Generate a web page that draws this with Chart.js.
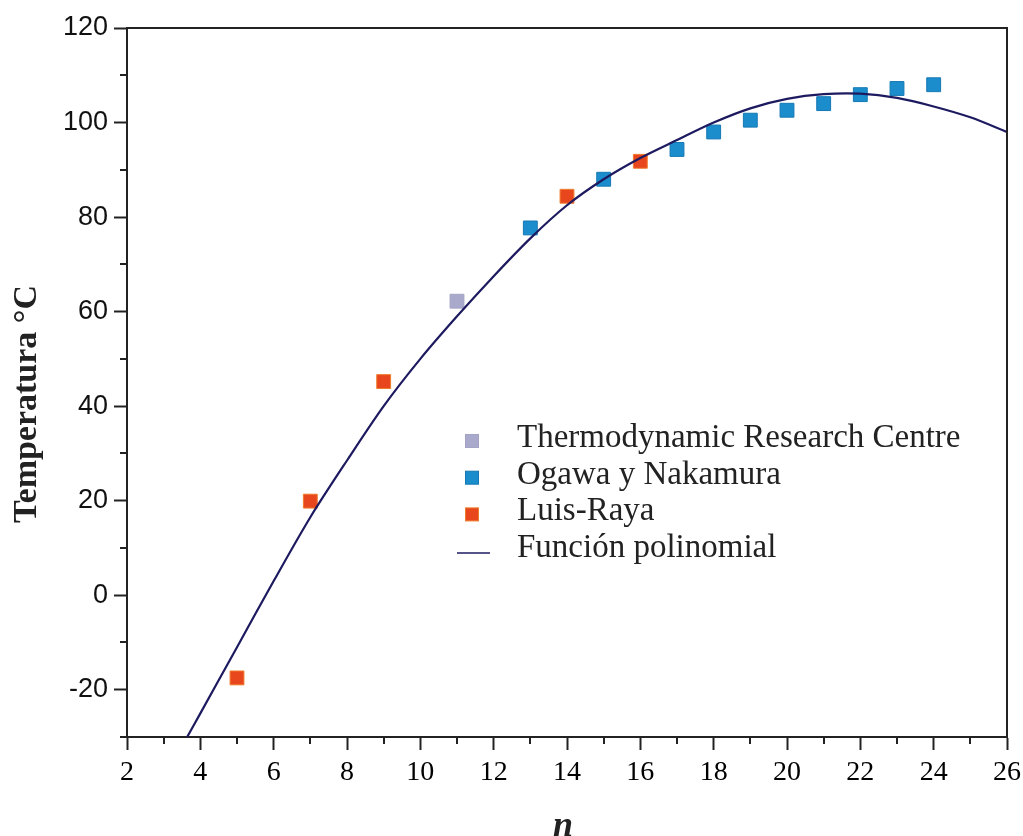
<!DOCTYPE html>
<html>
<head>
<meta charset="utf-8">
<script src="https://cdn.jsdelivr.net/npm/chart.js@4.4.1/dist/chart.umd.min.js"></script>
<style>
  html, body { margin: 0; padding: 0; background: #ffffff; }
  canvas { display: block; }
</style>
</head>
<body>
<canvas id="chart" width="1023" height="836"></canvas>
<script>
// Measured temperatures by carbon number n
const thermoN = [11];
const thermoT = [62.2];

const ogawaN = [13, 15, 17, 18, 19, 20, 21, 22, 23, 24];
const ogawaT = [77.7, 88.0, 94.3, 98.0, 100.5, 102.6, 104.0, 105.9, 107.2, 108.0];

const luisN = [5, 7, 9, 14, 16];
const luisT = [-17.5, 19.9, 45.2, 84.4, 91.8];

// Polynomial fit, sampled along n
const fitN = [3.64, 4, 5, 6, 7, 8, 9, 10, 11, 12, 13, 14, 15, 16, 17, 18, 19, 20, 21, 22, 23, 24, 25, 26];
const fitT = [-30, -25, -11, 3, 16.5, 28.5, 40, 50, 59, 67.5, 75.5, 82.5, 88, 92.5, 96.3, 100, 103, 105, 106, 106.1, 105.2, 103.4, 101.1, 98];

const seriesNames = ['Thermodynamic Research Centre', 'Ogawa y Nakamura', 'Luis-Raya', 'Función polinomial'];

// Axis ticks
const xTicks = [2, 4, 6, 8, 10, 12, 14, 16, 18, 20, 22, 24, 26];
const xMinor = [3, 5, 7, 9, 11, 13, 15, 17, 19, 21, 23, 25];
const yTicks = [-20, 0, 20, 40, 60, 80, 100, 120];
const yMinor = [-30, -10, 10, 30, 50, 70, 90, 110];

const xTitle = 'n';
const yTitle = 'Temperatura °C';

const toPoints = (xs, ys) => xs.map((x, i) => ({ x: x, y: ys[i] }));

const INK = '#222222';

// Box frame, minor ticks, axis titles and the inset legend
const decorations = {
  id: 'decorations',
  afterDraw(chart) {
    const ctx = chart.ctx;
    const a = chart.chartArea;
    const xs = chart.scales.x, ys = chart.scales.y;
    ctx.save();
    ctx.strokeStyle = INK;
    ctx.lineWidth = 2;
    ctx.beginPath();
    ctx.moveTo(a.left - 1, a.top);
    ctx.lineTo(a.right, a.top);
    ctx.lineTo(a.right, a.bottom + 1);
    ctx.stroke();

    // minor ticks
    ctx.beginPath();
    xMinor.forEach(v => {
      const px = Math.round(xs.getPixelForValue(v));
      ctx.moveTo(px, a.bottom);
      ctx.lineTo(px, a.bottom + 7);
    });
    yMinor.forEach(v => {
      const py = Math.round(ys.getPixelForValue(v));
      ctx.moveTo(a.left, py);
      ctx.lineTo(a.left - 7, py);
    });
    ctx.stroke();

    // axis titles
    ctx.fillStyle = INK;
    ctx.font = 'bold italic 36px "Liberation Serif", "Times New Roman", serif';
    ctx.textAlign = 'center';
    ctx.textBaseline = 'alphabetic';
    ctx.fillText(xTitle, 563, 836);

    ctx.save();
    ctx.translate(36, 404);
    ctx.rotate(-Math.PI / 2);
    ctx.font = 'bold 34px "Liberation Serif", "Times New Roman", serif';
    ctx.fillText(yTitle, 0, 0);
    ctx.restore();

    // legend
    const lg = chart.options.plugins.decorations;
    ctx.font = '33px "Liberation Serif", "Times New Roman", serif';
    ctx.textAlign = 'left';
    chart.data.datasets.forEach((ds, i) => {
      const base = lg.top + i * lg.rowGap;
      const my = base - 6;
      if (ds.showLine) {
        ctx.strokeStyle = ds.borderColor;
        ctx.lineWidth = 1.5;
        ctx.beginPath();
        ctx.moveTo(lg.markerX - 15, my + 2);
        ctx.lineTo(lg.markerX + 18, my + 2);
        ctx.stroke();
      } else {
        const s = 13;
        ctx.fillStyle = ds.backgroundColor;
        ctx.fillRect(lg.markerX - s / 2, my - s / 2, s, s);
        ctx.strokeStyle = ds.borderColor;
        ctx.lineWidth = 1;
        ctx.strokeRect(lg.markerX - s / 2, my - s / 2, s, s);
      }
      ctx.fillStyle = INK;
      ctx.fillText(ds.label, lg.textX, base);
    });
    ctx.restore();
  }
};

const markerCommon = {
  pointStyle: 'rect',
  pointRadius: 9.8,
  pointBorderWidth: 1,
  showLine: false,
  order: 1
};

new Chart(document.getElementById('chart'), {
  type: 'scatter',
  data: {
    datasets: [
      Object.assign({
        label: seriesNames[0],
        data: toPoints(thermoN, thermoT),
        backgroundColor: '#a9a9cb',
        borderColor: '#a3a3c6'
      }, markerCommon),
      Object.assign({
        label: seriesNames[1],
        data: toPoints(ogawaN, ogawaT),
        backgroundColor: '#1b8dcc',
        borderColor: '#1679b4'
      }, markerCommon),
      Object.assign({
        label: seriesNames[2],
        data: toPoints(luisN, luisT),
        backgroundColor: '#e8461c',
        borderColor: '#f07c2c'
      }, markerCommon),
      {
        label: seriesNames[3],
        data: toPoints(fitN, fitT),
        showLine: true,
        borderColor: '#1d1a60',
        backgroundColor: '#1d1a60',
        borderWidth: 2.2,
        pointRadius: 0,
        tension: 0.3,
        order: 0
      }
    ]
  },
  options: {
    responsive: false,
    animation: false,
    layout: { padding: { top: 28, right: 16, left: 0, bottom: 0 } },
    plugins: {
      legend: { display: false },
      tooltip: { enabled: false },
      decorations: { markerX: 472, textX: 517, top: 447, rowGap: 36.7 }
    },
    scales: {
      x: {
        type: 'linear',
        min: 2,
        max: 26,
        afterBuildTicks: s => { s.ticks = xTicks.map(v => ({ value: v })); },
        afterFit: s => { s.height = 99; s.paddingLeft = 0; s.paddingRight = 0; },
        border: { display: true, color: INK, width: 2 },
        grid: { drawOnChartArea: false, drawTicks: true, tickLength: 13, tickWidth: 2, tickColor: INK },
        ticks: {
          autoSkip: false,
          maxRotation: 0,
          padding: 6,
          color: '#000000',
          font: { family: '"Liberation Serif", "Times New Roman", serif', size: 28 }
        }
      },
      y: {
        type: 'linear',
        min: -30,
        max: 120,
        afterBuildTicks: s => { s.ticks = yTicks.map(v => ({ value: v })); },
        afterFit: s => { s.width = 127; s.paddingTop = 0; s.paddingBottom = 0; },
        border: { display: true, color: INK, width: 2 },
        grid: { drawOnChartArea: false, drawTicks: true, tickLength: 13, tickWidth: 2, tickColor: INK },
        ticks: {
          padding: 6,
          color: '#111111',
          font: { family: '"Liberation Sans", Arial, sans-serif', size: 27 }
        }
      }
    }
  },
  plugins: [decorations]
});
</script>
</body>
</html>
